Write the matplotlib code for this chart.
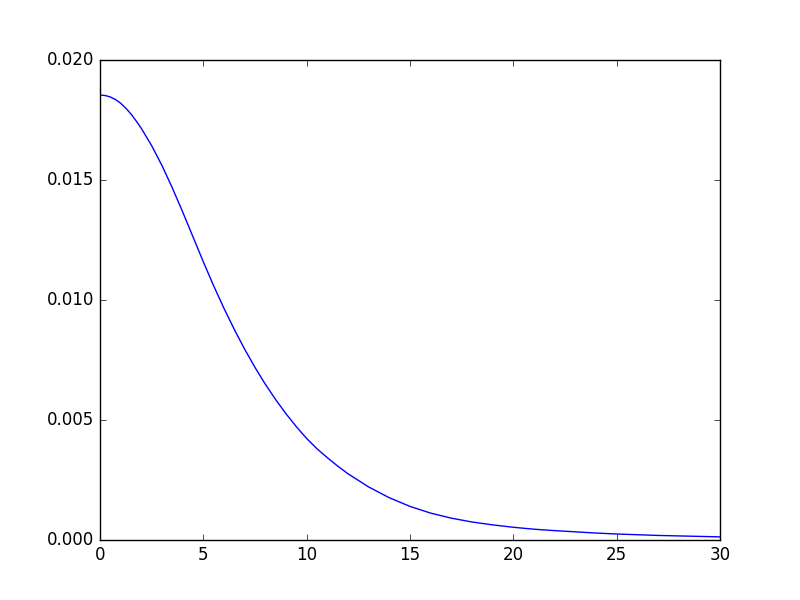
import matplotlib
matplotlib.use("Agg")
import matplotlib.pyplot as plt

# values
x_vals = [0, 0.25, 0.5, 0.75, 1, 1.25, 1.5, 1.75, 2, 2.5, 3, 3.5, 4, 4.5,
          5, 5.5, 6, 6.5, 7, 7.5, 8, 8.5, 9, 9.5, 10, 10.5, 11, 11.5, 12,
          13, 14, 15, 16, 17, 18, 19, 20, 21, 22, 23, 24, 25, 26, 27, 28,
          29, 30]
y_vals = [0.01854, 0.01852, 0.01846, 0.01835, 0.01820, 0.01799, 0.01775,
          0.01746, 0.01715, 0.01643, 0.01560, 0.01467, 0.01367, 0.01263,
          0.01159, 0.01059, 0.00965, 0.00877, 0.00795, 0.00719, 0.00649,
          0.00585, 0.00526, 0.00472, 0.00423, 0.00380, 0.00343, 0.00308,
          0.00276, 0.00221, 0.00176, 0.00140, 0.00112, 0.00091, 0.00075,
          0.00063, 0.00053, 0.00045, 0.00039, 0.00034, 0.00029, 0.00025,
          0.00022, 0.00019, 0.00017, 0.00015, 0.00013]

plt.style.use("classic")

fig, ax = plt.subplots(figsize=(8, 6), dpi=100)
ax.plot(x_vals, y_vals, color="blue", linewidth=1)
ax.set_xlim(0, 30)
ax.set_ylim(0, 0.020)
ax.set_yticks([0.000, 0.005, 0.010, 0.015, 0.020])

plt.savefig("out.png", dpi=100)
plt.close(fig)
